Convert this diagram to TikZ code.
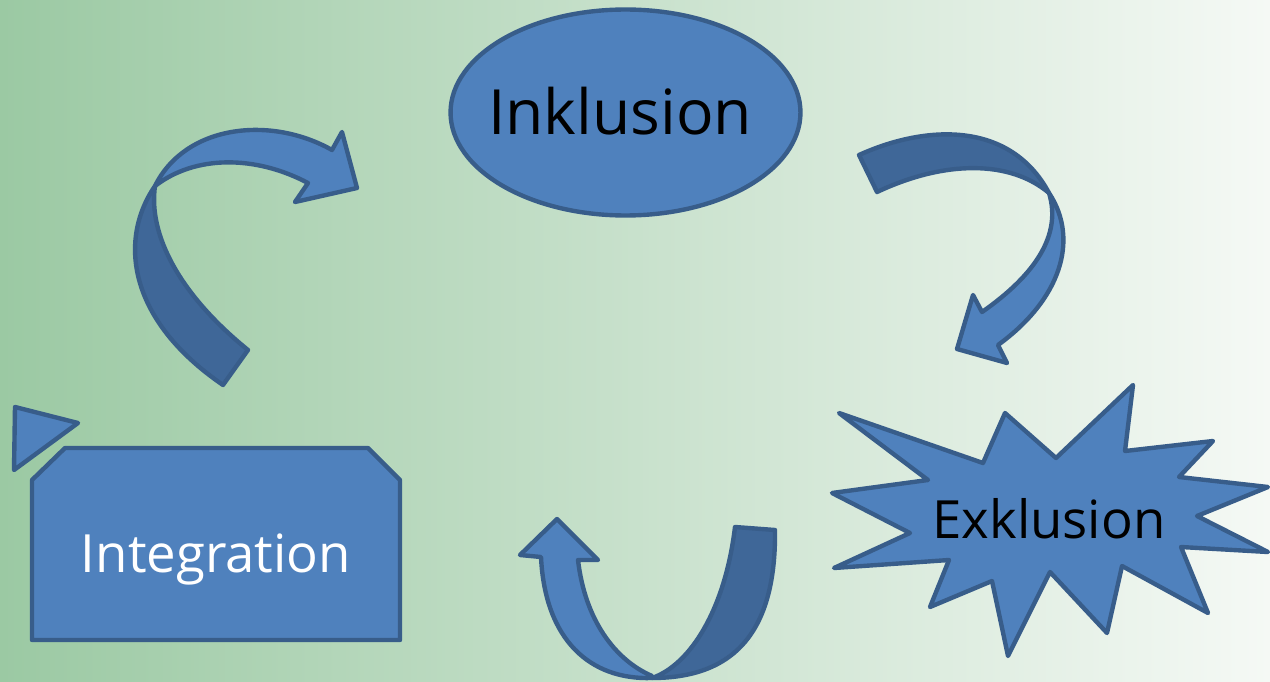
\documentclass[tikz,border=0pt]{standalone}
\usepackage{fontspec}
\setmainfont{Open Sans}
\usetikzlibrary{shapes.geometric}
\definecolor{bgL}{RGB}{155,201,163}
\definecolor{bgM}{RGB}{208,228,212}
\definecolor{bgR}{RGB}{245,249,245}
\definecolor{shapeFill}{RGB}{79,129,189}
\definecolor{shapeDark}{RGB}{63,103,152}
\definecolor{shapeLine}{RGB}{56,93,138}
\tikzset{
  shapebox/.style={fill=shapeFill, draw=shapeLine, line width=2.5pt, line join=round},
  shapeback/.style={fill=shapeDark, draw=shapeLine, line width=2.5pt, line join=round},
  labeltext/.style={font=\fontsize{30}{36}\selectfont, inner sep=0pt, anchor=base}
}
\begin{document}
\begin{tikzpicture}[x=0.02cm,y=-0.02cm]
\useasboundingbox (0,0) rectangle (1270,682);
\shade[left color=bgL, middle color=bgM, right color=bgR] (0,0) rectangle (1270,682);

% Inklusion ellipse
\node[ellipse, shapebox, minimum width=7.0cm, minimum height=4.12cm, inner sep=0pt] (inkl) at (625.5,112.5) {};
\node[labeltext, font=\fontsize{35.5}{42}\selectfont, text=black] (inkltext) at (620,135) {Inklusion};

% arrow Integration -> Inklusion (top left)
\draw[shapeback] (155,186) .. controls (118,240) and (128,320) .. (223,385)
   -- (248,350) .. controls (180,295) and (148,235) .. (155,186) -- cycle;
\draw[shapebox] (155,186) .. controls (185,125) and (270,115) .. (332,150)
   -- (342,132) -- (357,188) -- (295,202) -- (308,183)
   .. controls (255,155) and (195,155) .. (155,186) -- cycle;

% arrow Inklusion -> Exklusion (top right)
\draw[shapeback] (859,155) .. controls (925,125) and (1010,120) .. (1049,193)
   .. controls (1010,160) and (945,160) .. (877,192) -- cycle;
\draw[shapebox] (1049,193) .. controls (1080,240) and (1060,300) .. (998,345)
   -- (1007,363) -- (957,349) -- (973,295) -- (982,312)
   .. controls (1035,275) and (1062,235) .. (1049,193) -- cycle;

% arrow Exklusion -> Integration (bottom U-turn)
\draw[shapeback] (735,527) -- (775,530) .. controls (776,625) and (740,678) .. (652,678)
   .. controls (690,665) and (725,610) .. (735,527) -- cycle;
\draw[shapebox] (652,678) .. controls (590,680) and (545,640) .. (541,557)
   -- (520,555) -- (557,519) -- (598,560) -- (578,560)
   .. controls (585,620) and (615,660) .. (652,676) -- cycle;

% Integration box with snipped corners
\draw[shapebox] (32,480) -- (65,448) -- (368,448) -- (400,480) -- (400,640) -- (32,640) -- cycle;
\draw[shapebox] (15,407) -- (78,423) -- (14,470) -- cycle;
\node[labeltext, text=white] (integ) at (216,572) {Integration};

% Exklusion explosion
\draw[shapebox] (839,413) -- (928,480) -- (832,493) -- (910,533) -- (834,568) -- (949,560)
   -- (930,607) -- (992,581) -- (1008,656) -- (1050,572) -- (1107,633) -- (1122,566)
   -- (1208,613) -- (1181,547) -- (1268,552) -- (1197,516) -- (1268,487) -- (1179,477)
   -- (1213,441) -- (1125,451) -- (1133,385) -- (1056,458) -- (1005,413) -- (983,463) -- cycle;
\node[labeltext, text=black] (exkl) at (1049,538) {Exklusion};
\end{tikzpicture}
\end{document}
